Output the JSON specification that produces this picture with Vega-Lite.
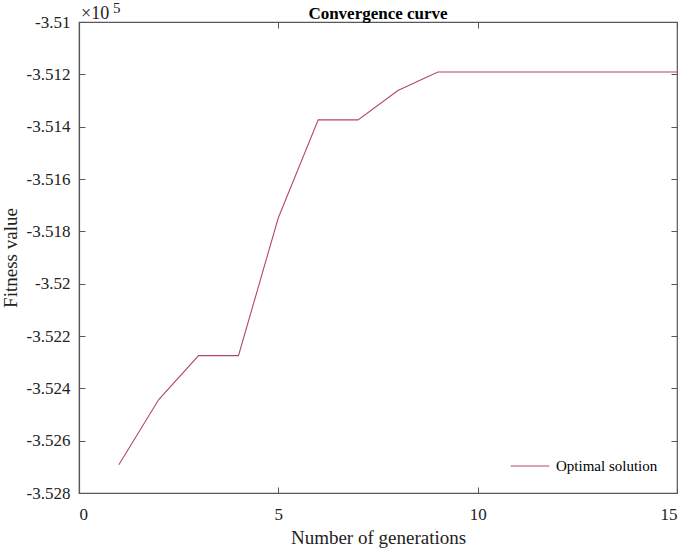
{
  "$schema": "https://vega.github.io/schema/vega-lite/v6.json",
  "autosize": {"type": "none"},
  "width": 598,
  "height": 471,
  "padding": {"left": 79, "top": 22, "right": 8, "bottom": 55},
  "background": "white",
  "title": {"text": "Convergence curve", "font": "Liberation Serif", "fontSize": 17, "fontWeight": "bold", "color": "#000000", "offset": -22, "anchor": "middle"},
  "config": {
    "view": {"stroke": "#56595c", "strokeWidth": 1.2},
    "axis": {"labelFont": "Liberation Serif", "titleFont": "Liberation Serif", "labelFontSize": 17, "titleFontSize": 19, "titleFontWeight": "normal", "labelColor": "#222222", "titleColor": "#222222", "domainColor": "#56595c", "tickColor": "#56595c", "grid": false}
  },
  "data": {"values": [
    {"generation": 1, "fitness": -352692, "series": "Optimal solution"},
    {"generation": 2, "fitness": -352443, "series": "Optimal solution"},
    {"generation": 3, "fitness": -352275, "series": "Optimal solution"},
    {"generation": 4, "fitness": -352275, "series": "Optimal solution"},
    {"generation": 5, "fitness": -351748, "series": "Optimal solution"},
    {"generation": 6, "fitness": -351374, "series": "Optimal solution"},
    {"generation": 7, "fitness": -351374, "series": "Optimal solution"},
    {"generation": 8, "fitness": -351262, "series": "Optimal solution"},
    {"generation": 9, "fitness": -351191, "series": "Optimal solution"},
    {"generation": 10, "fitness": -351191, "series": "Optimal solution"},
    {"generation": 11, "fitness": -351191, "series": "Optimal solution"},
    {"generation": 12, "fitness": -351191, "series": "Optimal solution"},
    {"generation": 13, "fitness": -351191, "series": "Optimal solution"},
    {"generation": 14, "fitness": -351191, "series": "Optimal solution"},
    {"generation": 15, "fitness": -351191, "series": "Optimal solution"}
  ]},
  "layer": [
    {
      "mark": {"type": "line", "strokeWidth": 1.1},
      "encoding": {
        "x": {"field": "generation", "type": "quantitative", "scale": {"domain": [0, 15], "nice": false, "zero": false}, "axis": {"title": "Number of generations", "values": [0, 5, 10, 15], "tickSize": -6, "labelPadding": 19, "titlePadding": 6, "domainWidth": 1.2}},
        "y": {"field": "fitness", "type": "quantitative", "scale": {"domain": [-352800, -351000], "nice": false, "zero": false}, "axis": {"title": "Fitness value", "values": [-352800, -352600, -352400, -352200, -352000, -351800, -351600, -351400, -351200, -351000], "labelExpr": "replace(format(datum.value / 100000, '.4~f'), '\u2212', '-')", "tickSize": -6, "labelPadding": 15, "titlePadding": 6, "domainWidth": 1.2}},
        "color": {"field": "series", "type": "nominal", "scale": {"range": ["#b4466b"]}, "legend": {"title": null, "orient": "bottom-right", "offset": 19, "symbolType": "stroke", "symbolSize": 1500, "symbolStrokeWidth": 1.1, "labelFont": "Liberation Serif", "labelFontSize": 15, "labelColor": "#000000", "labelOffset": 6, "fillColor": "white"}}
      }
    },
    {
      "data": {"values": [{"label": "×10"}]},
      "mark": {"type": "text", "font": "Liberation Serif", "fontSize": 18, "fontWeight": "normal", "align": "left", "baseline": "alphabetic", "dx": 2, "dy": -3, "color": "#222222"},
      "encoding": {
        "x": {"datum": 0, "type": "quantitative", "axis": null},
        "y": {"datum": -351000, "type": "quantitative", "axis": null},
        "text": {"field": "label"}
      }
    },
    {
      "data": {"values": [{"label": "5"}]},
      "mark": {"type": "text", "font": "Liberation Serif", "fontSize": 15, "fontWeight": "normal", "align": "left", "baseline": "alphabetic", "dx": 34, "dy": -9, "color": "#222222"},
      "encoding": {
        "x": {"datum": 0, "type": "quantitative", "axis": null},
        "y": {"datum": -351000, "type": "quantitative", "axis": null},
        "text": {"field": "label"}
      }
    },
    {
      "mark": {"type": "line", "opacity": 0},
      "encoding": {
        "x": {"field": "generation", "type": "quantitative", "axis": {"orient": "top", "title": null, "labels": false, "values": [0, 5, 10, 15], "tickSize": -6, "domain": false}},
        "y": {"field": "fitness", "type": "quantitative", "axis": {"orient": "right", "title": null, "labels": false, "values": [-352800, -352600, -352400, -352200, -352000, -351800, -351600, -351400, -351200, -351000], "tickSize": -6, "domain": false}}
      }
    }
  ],
  "resolve": {"axis": {"x": "independent", "y": "independent"}}
}
